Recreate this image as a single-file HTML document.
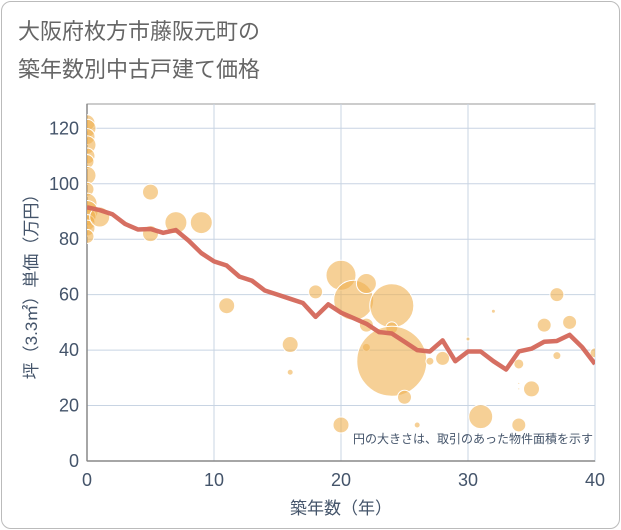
<!DOCTYPE html>
<html><head><meta charset="utf-8"><style>
body{margin:0;background:#fff;font-family:"Liberation Sans","Noto Sans CJK JP",sans-serif;}
#card{position:absolute;left:1px;top:1px;width:617px;height:526px;border:1px solid #bbb;border-radius:10px;}
.title{position:absolute;left:18px;font-size:22px;color:#666;}
</style></head><body>
<div id="card"></div>
<div class="title" style="top:14px">大阪府枚方市藤阪元町の</div>
<div class="title" style="top:52px">築年数別中古戸建て価格</div>
<svg id="chart" width="621" height="530" style="position:absolute;left:0;top:0"></svg>
<script>
const years=[0,1,2,3,4,5,6,7,8,9,10,11,12,13,14,15,16,17,18,19,20,21,22,23,24,25,26,27,28,29,30,31,32,33,34,35,36,37,38,39,40];
const avgPrice=[91.5,90.5,89,85.5,83.5,83.7,82.3,83.3,79.5,75,72,70.5,66.5,65,61.5,60,58.5,57,52,56.5,53.5,51.5,49.5,46.5,46,43,40,39.5,43.5,36,39.5,39.5,36,33,39.5,40.5,43,43.3,45.5,41,35];
const bubbleX=[0,0,0,0,0,0,0,0,0,0,0,0,0,0,1,5,5,7,9,11,16,16,18,20,20,21,22,22,22,24,24,24,25,26,27,28,30,31,32,34,34,34,34,35,36,37,37,38,40];
const bubbleY=[122,120,117,114,110,108,103,98,93,90,88,86,84,81,88,97,82,86,86,56,42,32,61,13,67,58,64,49,41,56,48,36,23,13,36,37,44,16,54,35,28,13,26,26,49,60,38,50,39];
const bubbleSize=[8,9,8,9,8,7,9,7,10,11,9,8,8,7,10,8,8,11,11,8,8,3,7,8,15,20,10,7,4,22,6,35,7,3,4,7,2,12,2,5,1,7,1,8,7,7,4,7,5];
const xTicks=[0,10,20,30,40];
const yTicks=[0,20,40,60,80,100,120];
const L=87,R=595,T=104,B=461;
const xs=v=>L+(R-L)*v/40;
const ys=v=>B-(B-128.3)*v/120;
const svg=document.getElementById('chart');
const NS='http://www.w3.org/2000/svg';
function mk(t,a){const e=document.createElementNS(NS,t);for(const k in a)e.setAttribute(k,a[k]);svg.appendChild(e);return e;}
let r=mk('rect',{x:L,y:T,width:R-L,height:B-T,fill:'#fff',stroke:'#999','stroke-width':1});


yTicks.forEach(v=>{
 const g=mk('line',{x1:L,x2:R,y1:ys(v),y2:ys(v),stroke:'#c8d4e3','stroke-width':1});
 
 
 const t=mk('text',{x:L-8,y:ys(v)+6,'text-anchor':'end','font-size':18,fill:'#44546a'});
 t.textContent=v;
 
 
});
xTicks.forEach(v=>{
 const g=mk('line',{x1:xs(v),x2:xs(v),y1:T,y2:B,stroke:'#c8d4e3','stroke-width':1});
 
 
 const t=mk('text',{x:xs(v),y:B+25,'text-anchor':'middle','font-size':18,fill:'#44546a'});
 t.textContent=v;
 
 
});
mk('line',{x1:L,x2:L,y1:T,y2:B,stroke:'#888','stroke-width':1.5});
mk('line',{x1:L,x2:R,y1:B,y2:B,stroke:'#888','stroke-width':1.5});
const clip=mk('clipPath',{id:'clip'});
const cr=document.createElementNS(NS,'rect');cr.setAttribute('x',L);cr.setAttribute('y',T);cr.setAttribute('width',R-L);cr.setAttribute('height',B-T);clip.appendChild(cr);
const gb=mk('g',{'clip-path':'url(#clip)'});
bubbleX.forEach((x,i)=>{
 const c=document.createElementNS(NS,'circle');
 c.setAttribute('cx',xs(x));c.setAttribute('cy',ys(bubbleY[i]));c.setAttribute('r',bubbleSize[i]);
 c.setAttribute('fill','rgba(240,176,80,0.6)');c.setAttribute('stroke','#fff');c.setAttribute('stroke-width',1);
 
 
 gb.appendChild(c);
});
const p=mk('polyline',{points:years.map((y,i)=>xs(y)+','+ys(avgPrice[i])).join(' '),fill:'none',stroke:'#d4675a','stroke-width':4.5,'stroke-linejoin':'round','clip-path':'url(#clip)',opacity:0.95});


const an=mk('text',{x:R-2,y:443,'text-anchor':'end','font-size':12,fill:'#44546a'});
an.textContent='円の大きさは、取引のあった物件面積を示す';


const xt=mk('text',{x:(L+R)/2,y:514,'text-anchor':'middle','font-size':17,fill:'#44546a'});
xt.textContent='築年数（年）';


const yt=mk('text',{x:0,y:0,'text-anchor':'middle','font-size':17,fill:'#44546a',transform:'translate(37,'+((T+B)/2)+') rotate(-90)'});
yt.textContent='坪（3.3㎡）単価（万円）';


</script>
</body></html>
